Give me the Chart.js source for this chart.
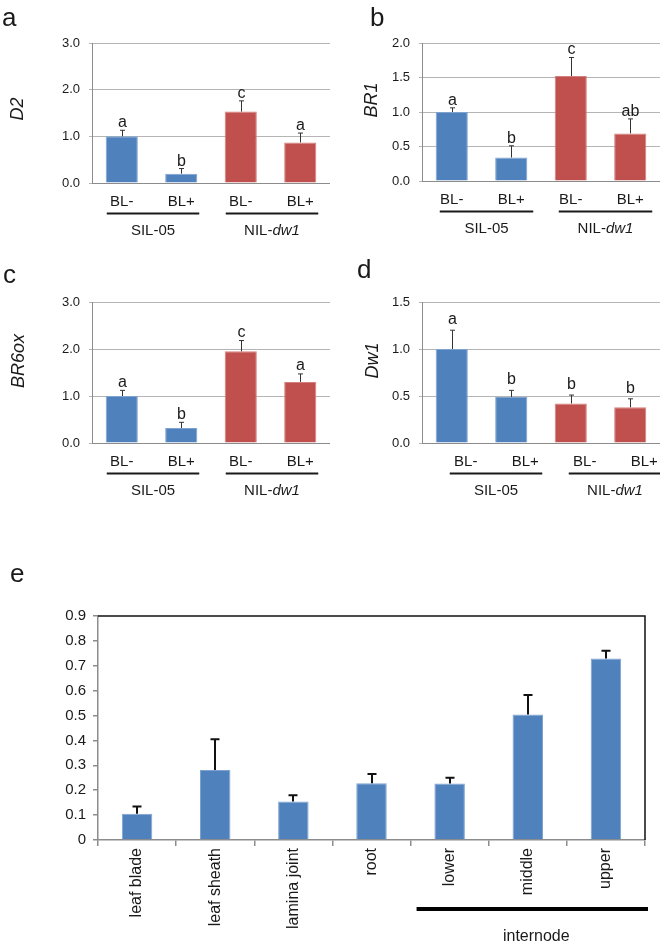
<!DOCTYPE html>
<html>
<head>
<meta charset="utf-8">
<script src="https://cdn.jsdelivr.net/npm/chart.js@4"></script>
<style>
  body { margin: 0; background: #fff; }
  #wrap { position: relative; width: 660px; height: 947px; }
  canvas { position: absolute; }
</style>
</head>
<body>
<div id="wrap">
  <canvas id="cA" width="330" height="250" style="left:0;top:0"></canvas>
  <canvas id="cB" width="330" height="250" style="left:330px;top:0"></canvas>
  <canvas id="cC" width="330" height="260" style="left:0;top:250px"></canvas>
  <canvas id="cD" width="330" height="260" style="left:330px;top:250px"></canvas>
  <canvas id="cE" width="660" height="397" style="left:0;top:550px"></canvas>
</div>
<script>
// panels a-d
const treatLabels = ['BL-', 'BL+', 'BL-', 'BL+'];
const groupLabels = ['SIL-05', 'NIL-dw1'];

const d2Vals = [1.0, 0.2, 1.53, 0.87];
const d2Err  = [0.13, 0.11, 0.23, 0.2];
const d2Sig  = ['a', 'b', 'c', 'a'];

const br1Vals = [1.0, 0.34, 1.52, 0.69];
const br1Err  = [0.06, 0.17, 0.27, 0.21];
const br1Sig  = ['a', 'b', 'c', 'ab'];

const br6Vals = [1.0, 0.32, 1.95, 1.3];
const br6Err  = [0.12, 0.12, 0.23, 0.17];
const br6Sig  = ['a', 'b', 'c', 'a'];

const dw1Vals = [1.0, 0.49, 0.42, 0.38];
const dw1Err  = [0.2, 0.07, 0.09, 0.09];
const dw1Sig  = ['a', 'b', 'b', 'b'];

// panel e
const tissueLabels = ['leaf blade', 'leaf sheath', 'lamina joint', 'root', 'lower', 'middle', 'upper'];
const tissueVals = [0.105, 0.281, 0.155, 0.228, 0.227, 0.504, 0.729];
const tissueErr  = [0.03, 0.124, 0.025, 0.037, 0.023, 0.079, 0.031];

const FONT = "'Liberation Sans', Arial, Helvetica, sans-serif";
Chart.defaults.font.family = FONT;
Chart.defaults.color = '#1a1a1a';

const BLUE = '#4F81BD', RED = '#C0504D';
const BLUE_EDGE = '#7FA3D0', RED_EDGE = '#D4807E';

const extras = {
  id: 'extras',
  afterDatasetsDraw(chart, args, o) {
    const ctx = chart.ctx, x = chart.scales.x, y = chart.scales.y;
    const vals = chart.data.datasets[0].data;
    ctx.save();
    ctx.strokeStyle = o.errColor;
    ctx.lineWidth = o.errWidth;
    vals.forEach((v, i) => {
      const px = Math.round(x.getPixelForValue(i)) + (o.errWidth % 2 ? 0.5 : 0);
      const top = y.getPixelForValue(v + o.err[i]);
      const base = y.getPixelForValue(v);
      ctx.beginPath();
      ctx.moveTo(px, base); ctx.lineTo(px, top);
      ctx.moveTo(px - o.cap, top); ctx.lineTo(px + o.cap, top);
      ctx.stroke();
      if (o.sig) {
        ctx.fillStyle = '#1a1a1a';
        ctx.font = `16px ${FONT}`;
        ctx.textAlign = 'center';
        ctx.textBaseline = 'alphabetic';
        ctx.fillText(o.sig[i], px, top - o.sigGap);
      }
    });
    ctx.restore();
  },
  afterDraw(chart, args, o) {
    const ctx = chart.ctx, x = chart.scales.x, area = chart.chartArea;
    ctx.save();
    ctx.fillStyle = '#1a1a1a';
    ctx.strokeStyle = '#1a1a1a';

    // group underlines + names
    if (o.groups) {
      [[0, 1], [2, 3]].forEach((pair, g) => {
        const x0 = x.getPixelForValue(pair[0]) + o.lineOff[0];
        const x1 = x.getPixelForValue(pair[1]) + o.lineOff[1];
        ctx.lineWidth = 2;
        ctx.beginPath();
        ctx.moveTo(x0, area.bottom + 30.5); ctx.lineTo(x1, area.bottom + 30.5);
        ctx.stroke();
        const cx = (x0 + x1) / 2 + (o.nameShift || 0);
        const yb = area.bottom + 52;
        const name = groupLabels[g];
        ctx.textBaseline = 'alphabetic';
        ctx.textAlign = 'left';
        if (name.startsWith('NIL-')) {
          ctx.font = `15px ${FONT}`;
          const w1 = ctx.measureText('NIL-').width;
          ctx.font = `italic 15px ${FONT}`;
          const w2 = ctx.measureText(name.slice(4)).width;
          const sx = cx - (w1 + w2) / 2;
          ctx.font = `15px ${FONT}`;
          ctx.fillText('NIL-', sx, yb);
          ctx.font = `italic 15px ${FONT}`;
          ctx.fillText(name.slice(4), sx + w1, yb);
        } else {
          ctx.font = `15px ${FONT}`;
          ctx.textAlign = 'center';
          ctx.fillText(name, cx, yb);
        }
      });
    }

    // gene name on the y axis
    if (o.title) {
      ctx.save();
      ctx.translate(o.titlePos[0], o.titlePos[1]);
      ctx.rotate(-Math.PI / 2);
      ctx.font = `italic 18px ${FONT}`;
      ctx.textAlign = 'center';
      ctx.textBaseline = 'middle';
      ctx.fillText(o.title, 0, 0);
      ctx.restore();
    }

    // panel letter
    ctx.font = `26px ${FONT}`;
    ctx.textAlign = 'left';
    ctx.textBaseline = 'alphabetic';
    ctx.fillText(o.letter, o.letterPos[0], o.letterPos[1]);

    // panel e: box top/right and internode bar
    if (o.frame) {
      ctx.strokeStyle = '#111';
      ctx.lineWidth = 1.5;
      ctx.beginPath();
      ctx.moveTo(area.left, area.top); ctx.lineTo(area.right, area.top); ctx.lineTo(area.right, area.bottom);
      ctx.stroke();
    }
    if (o.internode) {
      const w = (x.right - x.left) / tissueLabels.length;
      const x0 = x.getPixelForValue(4) - w / 2 + 6;
      const x1 = area.right + 3;
      ctx.fillStyle = '#000';
      ctx.fillRect(x0, area.bottom + 67, x1 - x0, 4);
      ctx.font = `16px ${FONT}`;
      ctx.textAlign = 'center';
      ctx.fillStyle = '#1a1a1a';
      ctx.fillText('internode', (x0 + x1) / 2 + 4, area.bottom + 101);
    }
    ctx.restore();
  }
};

function smallPanel(id, vals, err, sig, yMax, step, cfg) {
  new Chart(document.getElementById(id), {
    type: 'bar',
    data: {
      labels: treatLabels,
      datasets: [{
        data: vals,
        backgroundColor: [BLUE, BLUE, RED, RED],
        borderColor: [BLUE_EDGE, BLUE_EDGE, RED_EDGE, RED_EDGE],
        borderWidth: 1,
        categoryPercentage: 1,
        barPercentage: 0.54
      }]
    },
    options: {
      responsive: false,
      animation: false,
      layout: { padding: { top: cfg.top, left: 0, right: 0, bottom: 0 } },
      plugins: {
        legend: { display: false },
        tooltip: { enabled: false },
        extras: {
          err, sig, errColor: '#333', errWidth: 1, cap: 2.5, sigGap: cfg.sigGap,
          groups: true, lineOff: cfg.lineOff, nameShift: cfg.nameShift,
          title: cfg.title, titlePos: cfg.titlePos, letter: cfg.letter, letterPos: cfg.letterPos
        }
      },
      scales: {
        x: {
          grid: { display: false },
          border: { color: '#8c8c8c' },
          ticks: { font: { size: 15 }, padding: 2, labelOffset: cfg.labelShift || 0, maxRotation: 0, color: '#1a1a1a' },
          afterFit: s => { s.height = cfg.xh; }
        },
        y: {
          min: 0, max: yMax,
          ticks: { stepSize: step, font: { size: 13 }, padding: 9, color: '#1a1a1a', callback: v => v.toFixed(1) },
          grid: { color: '#b5b5b5', tickLength: 3 },
          border: { color: '#8c8c8c' },
          afterFit: s => { s.width = 92; }
        }
      }
    },
    plugins: [extras]
  });
}

smallPanel('cA', d2Vals, d2Err, d2Sig, 3, 1, {
  top: 43, xh: 67, sigGap: 3, lineOff: [-15, 18], title: 'D2', titlePos: [17.5, 109],
  letter: 'a', letterPos: [2, 26]
});
smallPanel('cB', br1Vals, br1Err, br1Sig, 2, 0.5, {
  top: 43, xh: 69, sigGap: 3, lineOff: [-12, 22], title: 'BR1', titlePos: [42, 100],
  letter: 'b', letterPos: [40, 26]
});
smallPanel('cC', br6Vals, br6Err, br6Sig, 3, 1, {
  top: 52, xh: 67, sigGap: 3.5, lineOff: [-15, 18], title: 'BR6ox', titlePos: [18.5, 111],
  letter: 'c', letterPos: [3, 33]
});
smallPanel('cD', dw1Vals, dw1Err, dw1Sig, 1.5, 0.5, {
  top: 52, xh: 67, sigGap: 6, lineOff: [-2, 31], labelShift: 14, title: 'Dw1', titlePos: [42.5, 110.5],
  letter: 'd', letterPos: [27, 28]
});

new Chart(document.getElementById('cE'), {
  type: 'bar',
  data: {
    labels: tissueLabels,
    datasets: [{
      data: tissueVals,
      backgroundColor: BLUE,
      borderColor: BLUE_EDGE,
      borderWidth: 1,
      categoryPercentage: 1,
      barPercentage: 0.39
    }]
  },
  options: {
    responsive: false,
    animation: false,
    layout: { padding: { top: 66, left: 0, right: 15, bottom: 0 } },
    plugins: {
      legend: { display: false },
      tooltip: { enabled: false },
      extras: {
        err: tissueErr, errColor: '#111', errWidth: 2, cap: 4.5,
        letter: 'e', letterPos: [10, 32], frame: true, internode: true
      }
    },
    scales: {
      x: {
        grid: { drawOnChartArea: false, color: '#8c8c8c', tickLength: 6, lineWidth: 1.5 },
        border: { color: '#8c8c8c', width: 1.5 },
        ticks: { font: { size: 16 }, minRotation: 90, maxRotation: 90, autoSkip: false, padding: 2, color: '#1a1a1a' },
        afterFit: s => { s.height = 107; }
      },
      y: {
        min: 0, max: 0.9,
        ticks: { stepSize: 0.1, font: { size: 15 }, padding: 7, color: '#1a1a1a', callback: v => v === 0 ? '0' : v.toFixed(1) },
        grid: { drawOnChartArea: false, color: '#8c8c8c', tickLength: 5, lineWidth: 1.5 },
        border: { color: '#8c8c8c', width: 1.5 },
        afterFit: s => { s.width = 98; }
      }
    }
  },
  plugins: [extras]
});
</script>
</body>
</html>
